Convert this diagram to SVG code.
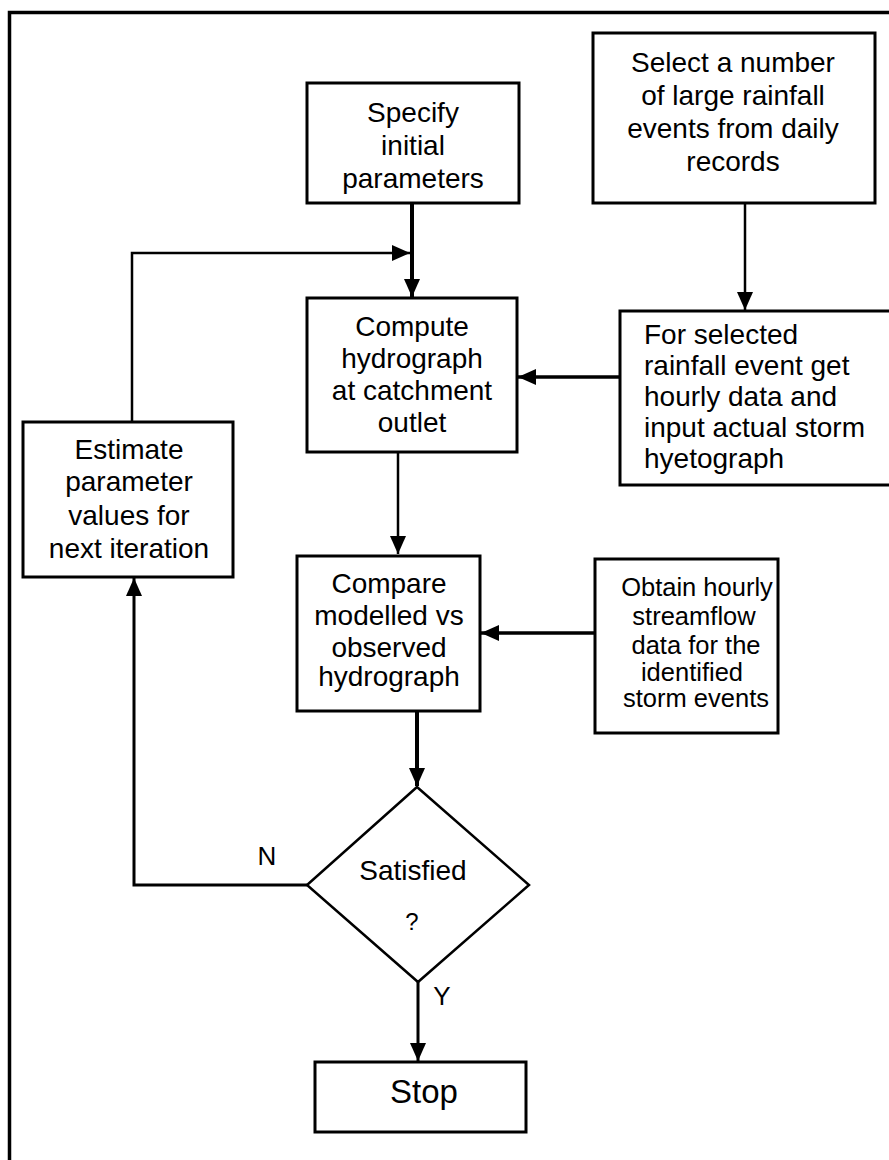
<svg xmlns="http://www.w3.org/2000/svg" width="889" height="1160" viewBox="0 0 889 1160">
<style>
.box{fill:#fff;stroke:#000;stroke-width:3}
.t{font-family:"Liberation Sans",Arial,sans-serif;font-size:28px;fill:#000;text-anchor:middle}
.tl{text-anchor:start}
.s{font-size:25.5px}
.c{fill:none;stroke:#000}
</style>
<defs>
<marker id="ah" markerUnits="userSpaceOnUse" markerWidth="18" markerHeight="18" viewBox="0 0 18 18" refX="18" refY="9" orient="auto">
<path d="M0,1 L18,9 L0,17 Z" fill="#000"/>
</marker>
</defs>
<rect width="889" height="1160" fill="#fff"/>
<path d="M9.5,1160 V12.5 H889" fill="none" stroke="#000" stroke-width="3.5"/>

<g id="connectors">
<path class="c" d="M412,203 V297" stroke-width="4" marker-end="url(#ah)"/>
<path class="c" d="M132,422 V253 H410" stroke-width="2.5" marker-end="url(#ah)"/>
<path class="c" d="M745,203 V310" stroke-width="2.5" marker-end="url(#ah)"/>
<path class="c" d="M620,377 H518" stroke-width="3.5" marker-end="url(#ah)"/>
<path class="c" d="M398,452 V554" stroke-width="2.5" marker-end="url(#ah)"/>
<path class="c" d="M595,633 H481" stroke-width="3.5" marker-end="url(#ah)"/>
<path class="c" d="M417,711 V786" stroke-width="4" marker-end="url(#ah)"/>
<path class="c" d="M418,982 V1061" stroke-width="3" marker-end="url(#ah)"/>
<path class="c" d="M307,885 H134 V578" stroke-width="3" marker-end="url(#ah)"/>
</g>

<g id="specify">
<rect class="box" x="307" y="83" width="212" height="120"/>
<text class="t" x="413" y="122">Specify</text>
<text class="t" x="413" y="155">initial</text>
<text class="t" x="413" y="188">parameters</text>
</g>

<g id="select">
<rect class="box" x="593" y="33" width="282" height="170"/>
<text class="t" x="733" y="72">Select a number</text>
<text class="t" x="733" y="105">of large rainfall</text>
<text class="t" x="733" y="138">events from daily</text>
<text class="t" x="733" y="171">records</text>
</g>

<g id="compute">
<rect class="box" x="307" y="298" width="210" height="154"/>
<text class="t" x="412" y="336">Compute</text>
<text class="t" x="412" y="368">hydrograph</text>
<text class="t" x="412" y="400">at catchment</text>
<text class="t" x="412" y="432">outlet</text>
</g>

<g id="forselected">
<rect class="box" x="620" y="311" width="275" height="174"/>
<text class="t tl" x="644" y="344">For selected</text>
<text class="t tl" x="644" y="375">rainfall event get</text>
<text class="t tl" x="644" y="406">hourly data and</text>
<text class="t tl" x="644" y="437">input actual storm</text>
<text class="t tl" x="644" y="468">hyetograph</text>
</g>

<g id="estimate">
<rect class="box" x="23" y="422" width="210" height="155"/>
<text class="t" x="129" y="459">Estimate</text>
<text class="t" x="129" y="491">parameter</text>
<text class="t" x="129" y="525">values for</text>
<text class="t" x="129" y="558">next iteration</text>
</g>

<g id="compare">
<rect class="box" x="297" y="556" width="183" height="155"/>
<text class="t" x="389" y="593">Compare</text>
<text class="t" x="389" y="625">modelled vs</text>
<text class="t" x="389" y="657">observed</text>
<text class="t" x="389" y="686">hydrograph</text>
</g>

<g id="obtain">
<rect class="box" x="595" y="559" width="183" height="174"/>
<text class="t s" x="697" y="596">Obtain hourly</text>
<text class="t s" x="694" y="625">streamflow</text>
<text class="t s" x="696" y="654">data for the</text>
<text class="t s" x="692" y="681">identified</text>
<text class="t s" x="696" y="707">storm events</text>
</g>

<g id="satisfied">
<path d="M417,787 L529,885 L418,982 L307,885 Z" fill="#fff" stroke="#000" stroke-width="2.5"/>
<text class="t" x="413" y="880">Satisfied</text>
<text class="t" x="412" y="930" style="font-size:24px">?</text>
</g>

<g id="labels">
<text class="t" x="267" y="865" style="font-size:26px">N</text>
<text class="t" x="442" y="1005" style="font-size:26px">Y</text>
</g>

<g id="stop">
<rect class="box" x="315" y="1062" width="211" height="70"/>
<text class="t" x="424" y="1103" style="font-size:33px">Stop</text>
</g>
</svg>
